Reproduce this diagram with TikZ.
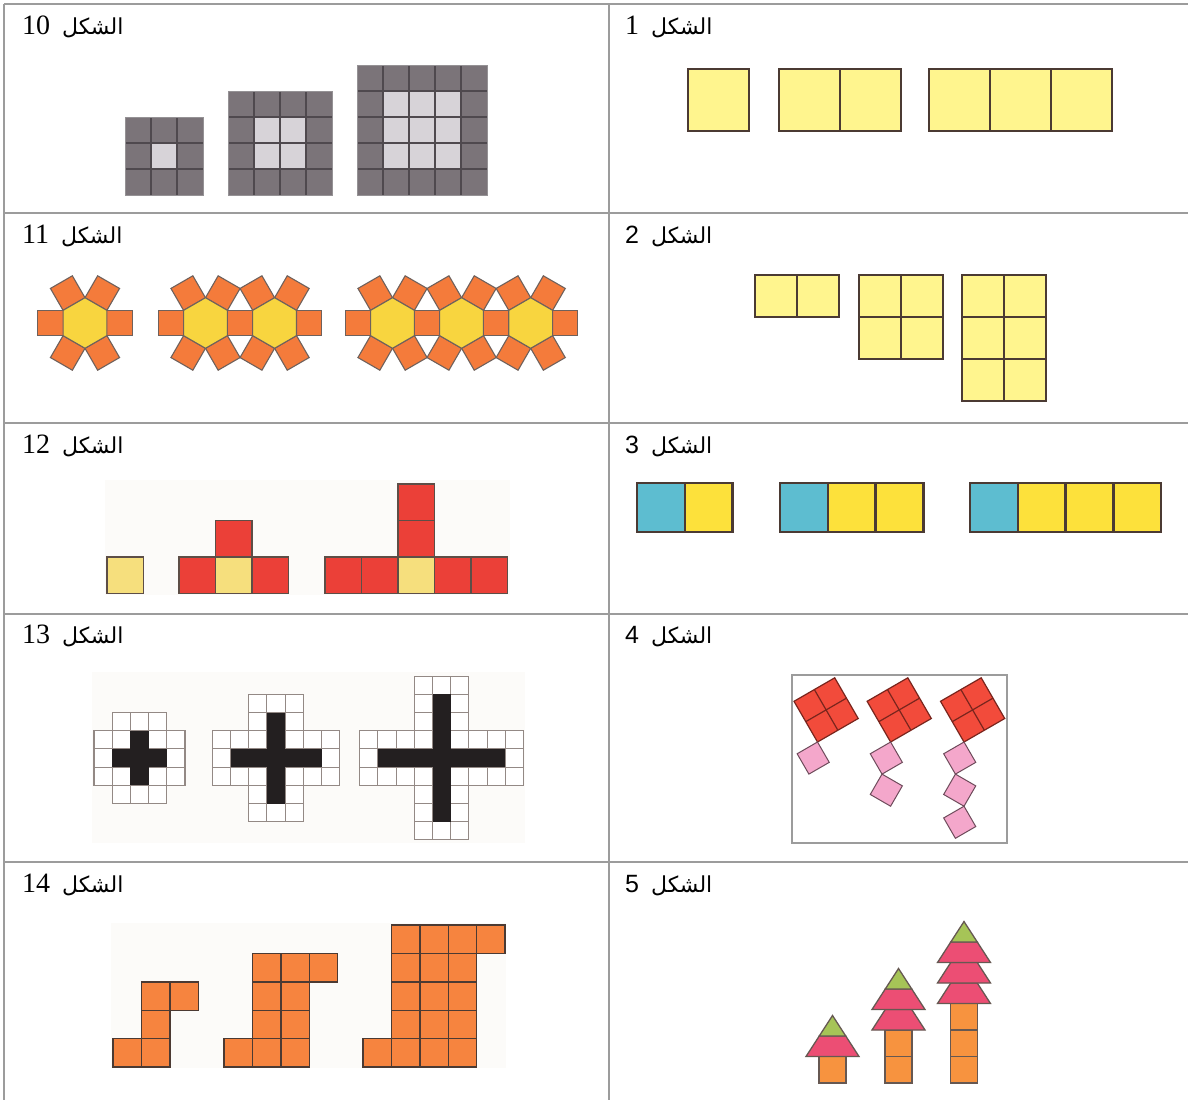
\documentclass[tikz,border=0pt]{standalone}
\usepackage{fontspec}
\setmainfont{Liberation Serif}
\newfontfamily\arabicfont[Script=Arabic]{DejaVu Sans}
\newfontfamily\numsans{Liberation Sans}
\TeXXeTstate=1
\usepackage{tikz}
\usetikzlibrary{calc}

\definecolor{cRule}      {HTML}{9C9C9C}
\definecolor{cInk}       {HTML}{4B3A33}
\definecolor{cGrayDark}  {HTML}{7B7479}
\definecolor{cGrayLight} {HTML}{D7D3D8}
\definecolor{cGrayLine}  {HTML}{4F494E}
\definecolor{cPaleYellow}{HTML}{FFF58E}
\definecolor{cOrange}    {HTML}{F47B3B}
\definecolor{cHexYellow} {HTML}{F8D53F}
\definecolor{cRed}       {HTML}{EB4038}
\definecolor{cCream}     {HTML}{F6DF7D}
\definecolor{cBlue}      {HTML}{5DBDD0}
\definecolor{cYellow}    {HTML}{FDE13B}
\definecolor{cBlack}     {HTML}{231F20}
\definecolor{cKiteRed}   {HTML}{F24B3B}
\definecolor{cPink}      {HTML}{F4A7CB}
\definecolor{cTileOrange}{HTML}{F6843F}
\definecolor{cRaspberry} {HTML}{EC4E74}
\definecolor{cLeaf}      {HTML}{A6C457}
\definecolor{cTrunk}     {HTML}{F7933F}
\definecolor{cScan}      {HTML}{FCFBF9}

\tikzset{
  tabrule/.style={draw=cRule, line width=1.8pt},
  figlabel/.style={anchor=base west, inner sep=0pt, font=\fontsize{28}{30}\selectfont},
  grayline/.style={draw=cGrayLine, line width=1.8pt},
  tileA/.style={fill=cPaleYellow, draw=cInk, line width=2.6pt},
  tileB/.style={fill=cPaleYellow, draw=cInk, line width=2.2pt},
  petal/.style={fill=cOrange, draw=cInk!80, line width=1.1pt},
  hexcell/.style={fill=cHexYellow, draw=cInk!80, line width=1.1pt},
  tileC/.style={draw=cInk!90, line width=1.4pt},
  tileD/.style={draw=cInk, line width=2.4pt},
  crossgrid/.style={fill=white, draw=cInk!60, line width=1.1pt},
  kiteframe/.style={draw=cRule, line width=1.6pt},
  kite/.style={fill=cKiteRed, draw=cKiteRed!50!black, line width=1.2pt},
  tail/.style={fill=cPink, draw=cPink!45!black, line width=1pt},
  tileE/.style={fill=cTileOrange, draw=cInk, line width=1.4pt},
  trunk/.style={fill=cTrunk, draw=cInk!85, line width=1.3pt},
  needle/.style={fill=cRaspberry, draw=cInk!85, line width=1.3pt},
  leaf/.style={fill=cLeaf, draw=cInk!85, line width=1.3pt},
}

% label text: Arabic word, then the number to its left
\newcommand{\shakl}[1]{\beginR{\arabicfont\fontsize{22}{24}\selectfont الشكل}\hspace*{12pt}\beginL{#1}\endL\endR}

\begin{document}
\begin{tikzpicture}[x=1pt, y=-1pt]
  \useasboundingbox (0,0) rectangle (1188,1100);
  \fill[white] (0,0) rectangle (1188,1100);

  % Table rules
  \draw[tabrule] (4,4) -- (1188,4);
  \draw[tabrule] (4,4) -- (4,1100);
  \draw[tabrule] (609,4) -- (609,1100);
  \foreach \ry in {213,423,614,862}
    \draw[tabrule] (4,\ry) -- (1188,\ry);

  % Labels
  \node[figlabel] (lbl10) at (22,34)  {\shakl{10}};
  \node[figlabel] (lbl11) at (22,243) {\shakl{11}};
  \node[figlabel] (lbl12) at (22,453) {\shakl{12}};
  \node[figlabel] (lbl13) at (22,643) {\shakl{13}};
  \node[figlabel] (lbl14) at (22,892) {\shakl{14}};
  \node[figlabel] (lbl1) at (625,34)  {\shakl{1}};
  \node[figlabel] (lbl2) at (625,243) {\shakl{\numsans\fontsize{25}{28}\selectfont 2}};
  \node[figlabel] (lbl3) at (625,453) {\shakl{\numsans\fontsize{25}{28}\selectfont 3}};
  \node[figlabel] (lbl4) at (625,643) {\shakl{\numsans\fontsize{25}{28}\selectfont 4}};
  \node[figlabel] (lbl5) at (625,892) {\shakl{\numsans\fontsize{25}{28}\selectfont 5}};

  % Fig 10: gray frames
  \foreach \n/\x in {3/125,4/228,5/357}{
    \pgfmathsetmacro\w{26*\n}
    \pgfmathtruncatemacro\m{\n-1}
    \fill[cGrayDark] (\x,195) rectangle ++(\w,-\w);
    \fill[cGrayLight] (\x+26,169) rectangle (\x+\w-26,195-\w+26);
    \foreach \k in {1,...,\m}{
      \draw[grayline] (\x+26*\k,195) -- ++(0,-\w);
      \draw[grayline] (\x,195-26*\k) -- ++(\w,0);
    }
    \draw[cGrayLine!60, line width=0.8pt] (\x,195) rectangle ++(\w,-\w);
  }

  % Fig 1: rows of squares
  \foreach \x/\n in {688/1,779/2,929/3}
    \foreach \i in {1,...,\n}
      \draw[tileA] (\x+61*\i-61,69) rectangle ++(61,62);

  % Fig 11: hexagon rosettes
  \foreach \cx in {85,205.5,274.6,392.5,461.6,530.7}{
    \begin{scope}[shift={(\cx,323)}]
      \foreach \t in {0,60,...,300}
        \draw[petal, rotate=\t] (21.91,-12.65) rectangle (47.21,12.65);
      \draw[hexcell] (30:25.3) -- (90:25.3) -- (150:25.3) -- (210:25.3)
        -- (270:25.3) -- (330:25.3) -- cycle;
    \end{scope}
  }

  % Fig 2: two columns
  \foreach \x/\r in {755/1,859/2,962/3}
    \foreach \i in {0,1}
      \foreach \j in {1,...,\r}
        \draw[tileB] (\x+42*\i,233+42*\j) rectangle ++(42,42);

  % Fig 12: T shapes
  \fill[cScan] (105,480) rectangle (510,595);
  \foreach \x/\y/\c in {107/557/cCream, 179/557/cRed, 215.5/557/cCream, 252/557/cRed,
      215.5/520.5/cRed, 325/557/cRed, 361.5/557/cRed, 398/557/cCream,
      434.5/557/cRed, 471/557/cRed, 398/520.5/cRed, 398/484/cRed}
    \draw[tileC, fill=\c] (\x,\y) rectangle ++(36.5,36.5);

  % Fig 3: blue + yellow strips
  \foreach \x/\n in {637/2,780/3,970/4}{
    \foreach \i in {1,...,\n}
      \draw[tileD, fill=cYellow] (\x+47.8*\i-47.8,483) rectangle ++(47.8,49);
    \draw[tileD, fill=cBlue] (\x,483) rectangle ++(47.8,49);
  }

  % Fig 13: crosses
  \fill[cScan] (92,672) rectangle (525,843);
  \foreach \cx/\k in {139.5/2,276/3,441.6/4}{
    \foreach \i in {-\k,...,\k}
      \foreach \j in {-1,0,1}{
        \draw[crossgrid] (\cx+18.2*\i-9.1,758+18.2*\j-9.1) rectangle ++(18.2,18.2);
        \draw[crossgrid] (\cx+18.2*\j-9.1,758+18.2*\i-9.1) rectangle ++(18.2,18.2);
      }
    \pgfmathsetmacro\a{18.2*(\k-1)+9.1}
    \fill[cBlack] (\cx-\a,748.9) rectangle (\cx+\a,767.1);
    \fill[cBlack] (\cx-9.1,758-\a) rectangle (\cx+9.1,758+\a);
  }

  % Fig 4: kites with tails
  \draw[kiteframe] (792,675) rectangle (1007,843);
  \foreach \bx in {817.5,890.6,964}{
    \begin{scope}[shift={(\bx,742)}, rotate=30, yscale=-1]
      \draw[kite] (0,0) rectangle (47,47);
      \draw[kite] (23.5,0) -- (23.5,47) (0,23.5) -- (47,23.5);
      \draw[tail] (-23.5,-23.5) rectangle (0,0);
    \end{scope}
  }
  \foreach \bx in {890.6,964}{
    \begin{scope}[shift={(\bx-8.6,774.1)}, rotate=-30, yscale=-1]
      \draw[tail] (0,-23.5) rectangle (23.5,0);
    \end{scope}
  }
  \begin{scope}[shift={(964,806.2)}, rotate=30, yscale=-1]
    \draw[tail] (-23.5,-23.5) rectangle (0,0);
  \end{scope}

  % Fig 14: stairs
  \fill[cScan] (111,923) rectangle (506,1068);
  \foreach \ox/\n in {113/1,224/2,363/3}{
    \pgfmathtruncatemacro\toprow{\n+1}
    \foreach \i in {0,...,\n}
      \draw[tileE] (\ox+28.4*\i,1067) rectangle ++(28.4,-28.4);
    \foreach \j in {1,...,\n}
      \foreach \i in {1,...,\n}
        \draw[tileE] (\ox+28.4*\i,1067-28.4*\j) rectangle ++(28.4,-28.4);
    \foreach \i in {1,...,\toprow}
      \draw[tileE] (\ox+28.4*\i,1067-28.4*\toprow) rectangle ++(28.4,-28.4);
  }

  % Fig 5: trees
  \foreach \cx/\n in {832.5/1,898.5/2,964/3}{
    \foreach \i in {1,...,\n}
      \draw[trunk] (\cx-13.5,1109.5-26.5*\i) rectangle ++(27,-26.5);
    \pgfmathsetmacro\base{1083-26.5*\n}
    \foreach \i in {1,...,\n}{
      \pgfmathsetmacro\yb{\base-20.5*(\i-1)}
      \draw[needle] (\cx-26.5,\yb) -- (\cx+26.5,\yb) -- (\cx+13.25,\yb-20.5)
        -- (\cx-13.25,\yb-20.5) -- cycle;
    }
    \pgfmathsetmacro\yg{\base-20.5*\n}
    \draw[leaf] (\cx-13.25,\yg) -- (\cx+13.25,\yg) -- (\cx,\yg-20.5) -- cycle;
  }
\end{tikzpicture}
\end{document}
